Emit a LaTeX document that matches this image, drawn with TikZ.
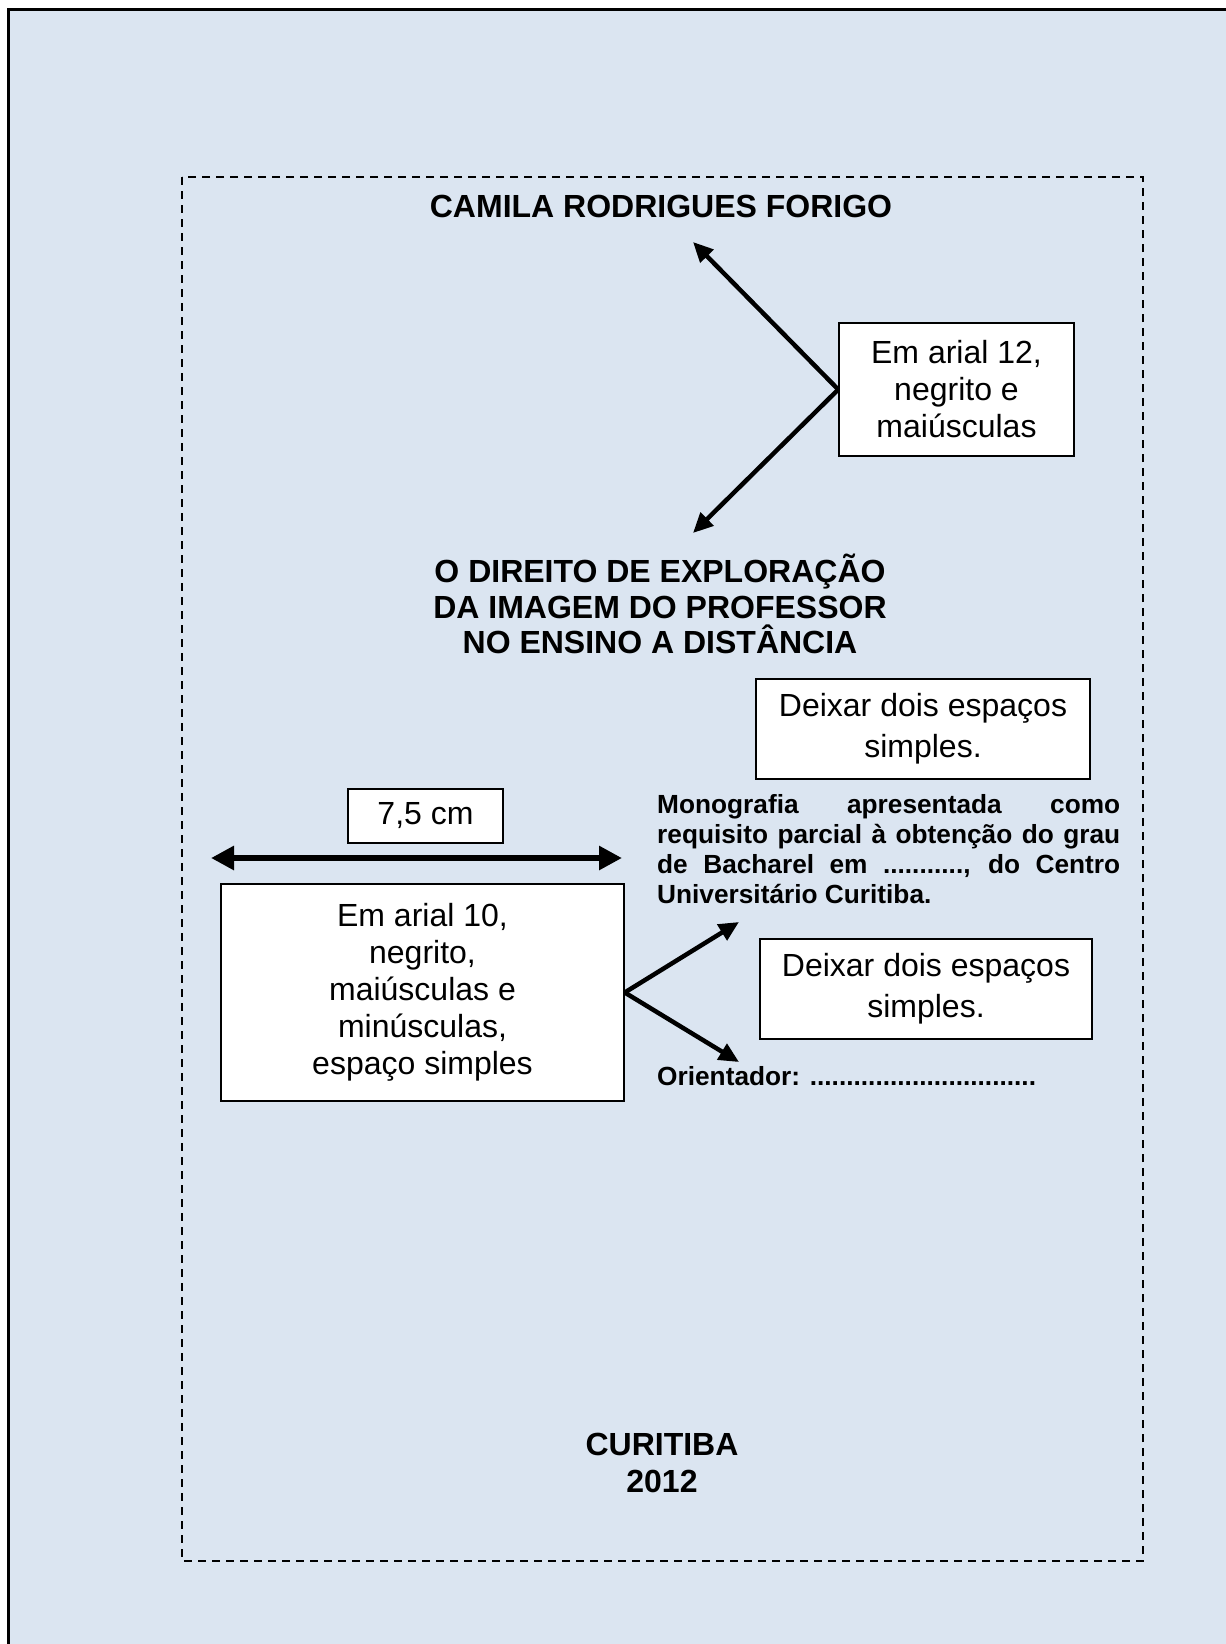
\documentclass[tikz,border=0pt]{standalone}
\usepackage{fontspec}
\setmainfont{Liberation Sans}
\usetikzlibrary{arrows.meta}
\definecolor{bgblue}{RGB}{219,229,241}
\begin{document}
\begin{tikzpicture}[x=1pt,y=-1pt,
  notebox/.style={draw, line width=1.5pt, fill=white, inner sep=0pt, align=center,
    font=\fontsize{32}{37}\selectfont},
  bigbold/.style={inner sep=0pt, anchor=base, font=\fontsize{32}{36}\selectfont\bfseries},
  smallbold/.style={inner sep=0pt, anchor=base west, font=\fontsize{26.25}{30}\selectfont\bfseries},
  pointer/.style={line width=4.5pt, -{Triangle[length=20pt,width=18pt]}},
  dimarrow/.style={line width=6.5pt, {Triangle[length=23pt,width=23pt]}-{Triangle[length=23pt,width=23pt]}}
]
\useasboundingbox (0,0) rectangle (1226,1644);
\fill[bgblue] (8,9) rectangle (1240,1660);
\draw[line width=3pt] (8,1660) -- (8,9) -- (1240,9);
\draw[line width=2.2pt, dash pattern=on 8pt off 6pt] (182,177) rectangle (1143,1561);

% Name and title
\node[bigbold] (name) at (661,217) {CAMILA RODRIGUES FORIGO};
\node[bigbold] (titleA) at (660,582) {O DIREITO DE EXPLORAÇÃO};
\node[bigbold] (titleB) at (660,618) {DA IMAGEM DO PROFESSOR};
\node[bigbold] (titleC) at (660,653) {NO ENSINO A DISTÂNCIA};

% Note box arial 12
\node[notebox, minimum width=235pt, minimum height=133pt] (box12) at (956.5,389.5)
  {Em arial 12,\\negrito e\\maiúsculas};
\coordinate (tipA) at (693,242);
\coordinate (tipB) at (693,533);
\draw[pointer] (box12.west) -- (tipA);
\draw[pointer] (box12.west) -- (tipB);

% Deixar boxes
\node[notebox, font=\fontsize{32}{41}\selectfont, minimum width=334pt, minimum height=100pt] (space1) at (923,729)
  {Deixar dois espaços\\simples.};
\node[notebox, font=\fontsize{32}{41}\selectfont, minimum width=332pt, minimum height=100pt] (space2) at (926,989)
  {Deixar dois espaços\\simples.};

% Monografia paragraph
\node[smallbold] (monoA) at (657,813) {\makebox[463pt][s]{Monografia apresentada como}};
\node[smallbold] (monoB) at (657,843) {\makebox[463pt][s]{requisito parcial à obtenção do grau}};
\node[smallbold] (monoC) at (657,873) {\makebox[463pt][s]{de Bacharel em ..........., do Centro}};
\node[smallbold] (monoD) at (657,903) {Universitário Curitiba.};
\node[smallbold] (orient) at (657,1085) {Orientador: ...............................};

% 7,5 cm dimension
\node[notebox, minimum width=155pt, minimum height=54pt] (dimlabel) at (425.5,816) {7,5 cm};
\coordinate (dimL) at (211,858);
\coordinate (dimR) at (622,858);
\draw[dimarrow] (dimL) -- (dimR);

% Note box arial 10
\node[notebox, minimum width=403pt, minimum height=217pt] (box10) at (422.5,992.5)
  {Em arial 10,\\negrito,\\maiúsculas e\\minúsculas,\\espaço simples};
\coordinate (tipC) at (739,922);
\coordinate (tipD) at (739,1062);
\draw[pointer] (box10.east) -- (tipC);
\draw[pointer] (box10.east) -- (tipD);

% City and year
\node[bigbold] (city) at (662,1455) {CURITIBA};
\node[bigbold] (year) at (662,1492) {2012};
\end{tikzpicture}
\end{document}
